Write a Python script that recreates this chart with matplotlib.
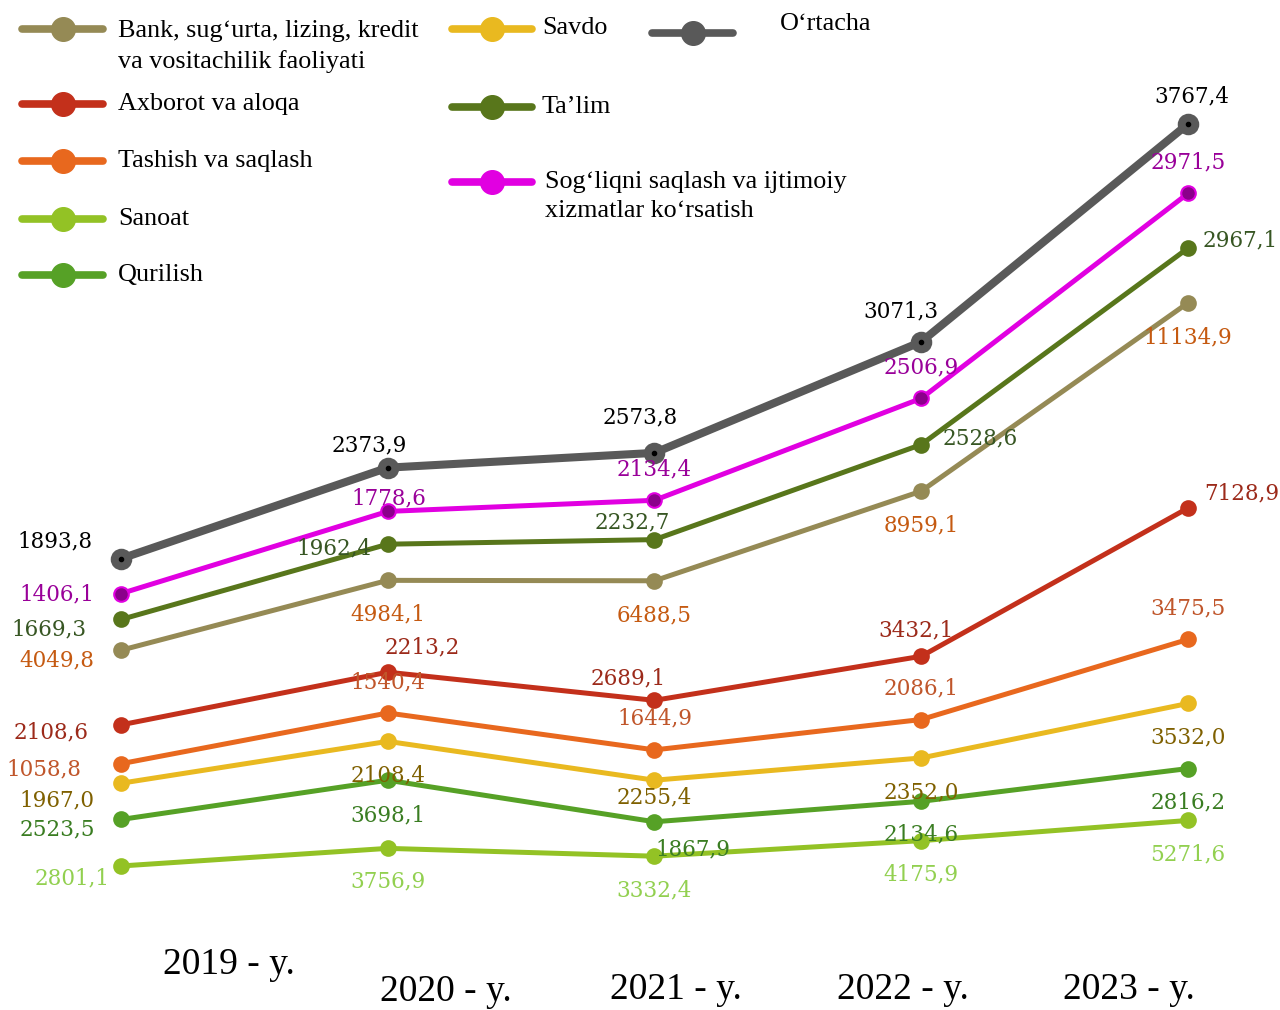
import matplotlib
matplotlib.use("Agg")
import matplotlib.pyplot as plt
from matplotlib.lines import Line2D
import numpy as np

years = ["2019 - y.", "2020 - y.", "2021 - y.", "2022 - y.", "2023 - y."]

# series in stacking order (bottom -> top)
sanoat = [2801.1, 3756.9, 3332.4, 4175.9, 5271.6]
qurilish = [2523.5, 3698.1, 1867.9, 2134.6, 2816.2]
savdo = [1967.0, 2108.4, 2255.4, 2352.0, 3532.0]
tashish = [1058.8, 1540.4, 1644.9, 2086.1, 3475.5]
axborot = [2108.6, 2213.2, 2689.1, 3432.1, 7128.9]
bank = [4049.8, 4984.1, 6488.5, 8959.1, 11134.9]
talim = [1669.3, 1962.4, 2232.7, 2528.6, 2967.1]
sogliq = [1406.1, 1778.6, 2134.4, 2506.9, 2971.5]
ortacha = [1893.8, 2373.9, 2573.8, 3071.3, 3767.4]

names = {
    "bank": "Bank, sug\u2018urta, lizing, kredit\nva vositachilik faoliyati",
    "axborot": "Axborot va aloqa",
    "tashish": "Tashish va saqlash",
    "sanoat": "Sanoat",
    "qurilish": "Qurilish",
    "savdo": "Savdo",
    "talim": "Ta\u2019lim",
    "sogliq": "Sog\u2018liqni saqlash va ijtimoiy\nxizmatlar ko\u2018rsatish",
    "ortacha": "O\u2018rtacha",
}

# key, values, line colour, label colour
series = [
    ("sanoat", sanoat, "#93C225", "#92D050"),
    ("qurilish", qurilish, "#56A126", "#3A7D22"),
    ("savdo", savdo, "#E9B920", "#7F6000"),
    ("tashish", tashish, "#E8681E", "#C0562B"),
    ("axborot", axborot, "#C3301B", "#9C2A1A"),
    ("bank", bank, "#958A55", "#C55A11"),
    ("talim", talim, "#58761B", "#375623"),
    ("sogliq", sogliq, "#E100E1", "#990099"),
    ("ortacha", ortacha, "#595959", "#000000"),
]

# label offsets in pixels (dx, dy downward) per point
offsets = {
    "ortacha": [(-66, -17), (-18, -22), (-14, -35), (-20, -30), (4, -28)],
    "sogliq": [(-64, 1), (1, -13), (0, -31), (0, -31), (0, -31)],
    "talim": [(-72, 10), (-54, 4), (-22, -17), (59, -6), (52, -8)],
    "bank": [(-64, 10), (0, 34), (0, 35), (0, 34), (0, 35)],
    "axborot": [(-70, 8), (35, -25), (-26, -22), (-5, -26), (54, -15)],
    "tashish": [(-77, 6), (0, -31), (0, -31), (0, -31), (0, -31)],
    "savdo": [(-64, 17), (0, 34), (0, 17), (0, 34), (0, 34)],
    "qurilish": [(-64, 10), (0, 35), (38, 28), (0, 33), (0, 34)],
    "sanoat": [(-49, 12), (0, 33), (0, 34), (0, 34), (0, 34)],
}

SERIF = ["Liberation Serif", "DejaVu Serif"]
LBL = ["DejaVu Serif"]

fig = plt.figure(figsize=(12.8, 10.1), dpi=100)
ax = fig.add_axes([0, 0, 1, 1])
ax.set_xlim(-0.4536, 4.345)
ax.set_ylim(-5014, 49794)
ax.axis("off")

x = np.arange(len(years))
base = np.zeros(len(years))
for key, vals, col, lcol in series:
    top = base + np.array(vals)
    lw, ms = 3.6, 10.5
    mfc, mec = col, col
    if key == "ortacha":
        lw, ms = 5.8, 14
    if key == "sogliq":
        mfc = "#8B008B"
    ax.plot(x, top, "-", color=col, linewidth=lw, marker="o", markersize=ms,
            markerfacecolor=mfc, markeredgecolor=mec, markeredgewidth=1.5,
            solid_capstyle="round", zorder=3)
    if key == "ortacha":
        ax.plot(x, top, "o", color="black", markersize=3, zorder=4)
    for i, v in enumerate(vals):
        dx, dy = offsets[key][i]
        ax.annotate(("%.1f" % v).replace(".", ","), xy=(x[i], top[i]),
                    xytext=(dx, -dy), textcoords="offset pixels",
                    ha="center", va="center", fontsize=15.5, color=lcol,
                    family=LBL, zorder=5)
    base = top

# category labels (staggered, as in the original)
tick_pos = [(229, 965), (446, 992), (676, 990), (903, 990), (1129, 990)]
for lab, (px, py) in zip(years, tick_pos):
    fig.text(px / 1280, 1 - py / 1010, lab, ha="center", va="center",
             fontsize=27, family=SERIF)

# legend drawn by hand
colors = {k: c for k, _, c, _ in series}
legend_items = [
    ("bank", 22, 103, 29, 118, 29),
    ("axborot", 22, 103, 104, 118, 104),
    ("tashish", 22, 103, 161, 118, 161),
    ("sanoat", 22, 103, 219, 118, 219),
    ("qurilish", 22, 103, 275, 118, 275),
    ("savdo", 452, 532, 29, 542, 28),
    ("talim", 452, 532, 107, 542, 107),
    ("sogliq", 452, 532, 182, 545, 180),
    ("ortacha", 652, 733, 33, 780, 24),
]
for key, x0, x1, ly, tx, ty in legend_items:
    xs = [x0 / 1280, x1 / 1280]
    ys = [1 - ly / 1010] * 2
    fig.add_artist(Line2D(xs, ys, color=colors[key], linewidth=5.5,
                          solid_capstyle="round"))
    fig.add_artist(Line2D([(x0 + x1) / 2 / 1280], [ys[0]], marker="o",
                          markersize=17, color=colors[key], linestyle="none"))
    if "\n" in names[key]:
        fig.text(tx / 1280, 1 - (ty - 9) / 1010, names[key], ha="left",
                 va="top", fontsize=18.8, family=SERIF, linespacing=1.42)
    else:
        fig.text(tx / 1280, 1 - ty / 1010, names[key], ha="left",
                 va="center", fontsize=18.8, family=SERIF)

fig.savefig("out.png", dpi=100)
